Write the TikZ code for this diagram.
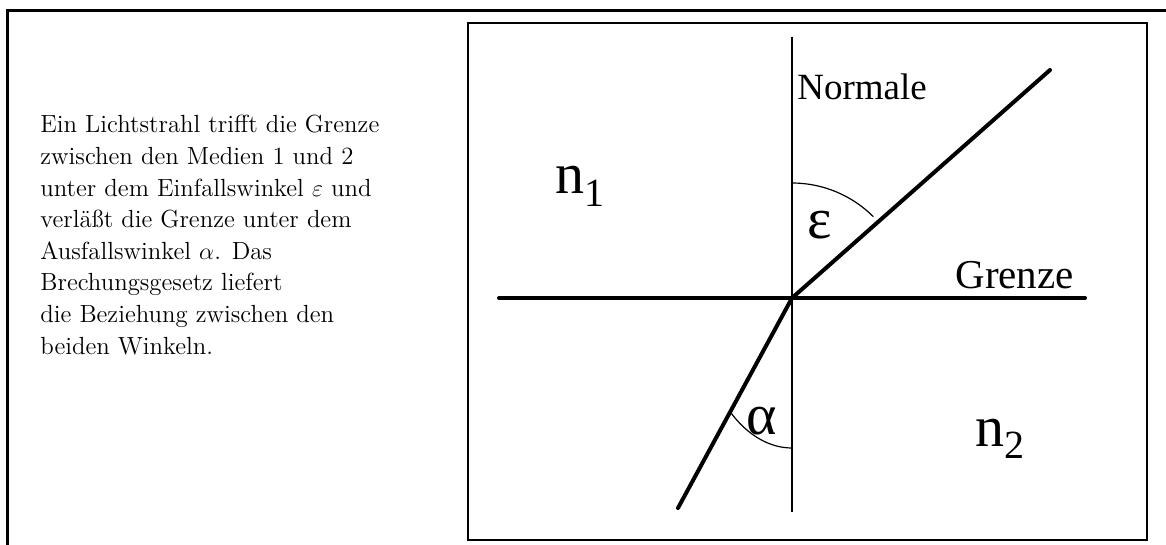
\documentclass[tikz,border=0pt]{standalone}
\usepackage{fontspec}
\usepackage{tikz}
\newfontfamily\timesfont{Liberation Serif}
\usetikzlibrary{positioning}

\begin{document}
\begin{tikzpicture}[
    x=0.5pt, y=-0.5pt,
    frame/.style={line width=1.5pt},
    box/.style={line width=1.2pt},
    ray/.style={line width=2pt, line cap=round},
    normal/.style={line width=0.8pt},
    angle arc/.style={line width=0.6pt},
    bodytext/.style={align=left, inner sep=0pt, font=\fontsize{12.4}{15.8}\selectfont},
    small label/.style={inner sep=0pt, font=\fontsize{18.5}{20}\selectfont\timesfont},
    big label/.style={inner sep=0pt, font=\fontsize{29}{30}\selectfont\timesfont}
]
    \useasboundingbox (0,0) rectangle (1166,545);

    % Outer frame
    \draw[frame] (7,545) -- (7,11) -- (1166,11);

    % Description
    \node[bodytext, anchor=north west] (desc) at (40,115) {Ein Lichtstrahl trifft die Grenze\\
        zwischen den Medien 1 und 2\\
        unter dem Einfallswinkel $\varepsilon$ und\\
        verläßt die Grenze unter dem\\
        Ausfallswinkel $\alpha$. Das\\
        Brechungsgesetz liefert\\
        die Beziehung zwischen den\\
        beiden Winkeln.};

    % Sketch box
    \draw[box] (468,23) rectangle (1147,540);

    % Points
    \coordinate (O) at (792,298);
    \coordinate (nTop) at (792,37);
    \coordinate (nBot) at (792,512);
    \coordinate (gLeft) at (499,298);
    \coordinate (gRight) at (1085,298);
    \coordinate (rayIn) at (1050,70);
    \coordinate (rayOut) at (678,508);

    % Normal, boundary and ray
    \draw[normal] (nTop) -- (nBot);
    \draw[ray] (gLeft) -- (gRight);
    \draw[ray] (rayIn) -- (O) -- (rayOut);

    % Angles
    \draw[angle arc] (792,183) arc[start angle=-90, end angle=-45, radius=115];
    \draw[angle arc] (792,448) arc[start angle=90, end angle=130.6, x radius=95, y radius=150];
    \node[big label] (eps) at (820,225) {ε};
    \node[big label] (alp) at (762,421) {α};

    % Labels
    \node[small label, anchor=base west] (normale) at (797,100) {Normale};
    \node[small label, anchor=base west, font=\fontsize{20.5}{22}\selectfont\timesfont] (grenze) at (955,288) {Grenze};
    \node[big label, anchor=base west] (n1) at (555,194) {n\raisebox{-6pt}{\fontsize{20}{20}\selectfont 1}};
    \node[big label, anchor=base west] (n2) at (975,446) {n\raisebox{-6pt}{\fontsize{20}{20}\selectfont 2}};
\end{tikzpicture}
\end{document}
